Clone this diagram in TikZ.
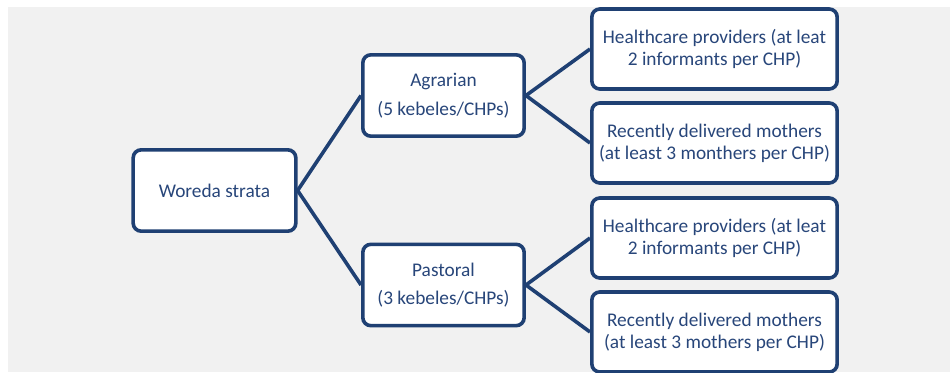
\documentclass[tikz,border=0pt]{standalone}
\usepackage{fontspec}
\setmainfont{Carlito}
\definecolor{boxnavy}{RGB}{31,64,115}
\definecolor{textnavy}{RGB}{40,70,122}
\definecolor{slidegray}{RGB}{241,241,241}

\tikzset{every picture/.style={line width=0.75pt}}
\tikzset{
  strbox/.style={draw=boxnavy, line width=2.7pt, fill=white, rounded corners=6pt,
    text=textnavy, align=center, inner sep=0pt, font=\fontsize{14.5}{16.5}\selectfont},
  rootbox/.style={strbox, minimum width=122pt, minimum height=61pt},
  midbox/.style={strbox, minimum width=121pt, minimum height=61pt},
  leafbox/.style={strbox, minimum width=184pt, minimum height=60pt},
  branch/.style={draw=boxnavy, line width=2.7pt}
}

\begin{document}
\begin{tikzpicture}[x=0.75pt,y=0.75pt,yscale=-1,xscale=1]
\useasboundingbox (0,0) rectangle (950,372);

%Shape: background
\fill [slidegray] (8,7) rectangle (950,372);

% Text Node
\node [rootbox] (woreda) at (214.5,190.5) {Woreda strata};
% Text Node
\node [midbox] (agrarian) at (443.5,95.5) {Agrarian\\[5pt](5 kebeles/CHPs)};
% Text Node
\node [midbox] (pastoral) at (443.5,285) {Pastoral\\[5pt](3 kebeles/CHPs)};
% Text Node
\node [leafbox] (provA) at (714.5,49) {Healthcare providers (at leat\\2 informants per CHP)};
% Text Node
\node [leafbox] (mothA) at (714.5,143) {Recently delivered mothers\\(at least 3 monthers per CHP)};
% Text Node
\node [leafbox] (provP) at (714.5,238) {Healthcare providers (at leat\\2 informants per CHP)};
% Text Node
\node [leafbox] (mothP) at (714.5,332) {Recently delivered mothers\\(at least 3 mothers per CHP)};

%Straight Lines
\draw [branch] (agrarian.west) -- (woreda.east) -- (pastoral.west);
\draw [branch] (provA.west) -- (agrarian.east) -- (mothA.west);
\draw [branch] (provP.west) -- (pastoral.east) -- (mothP.west);

\end{tikzpicture}
\end{document}
